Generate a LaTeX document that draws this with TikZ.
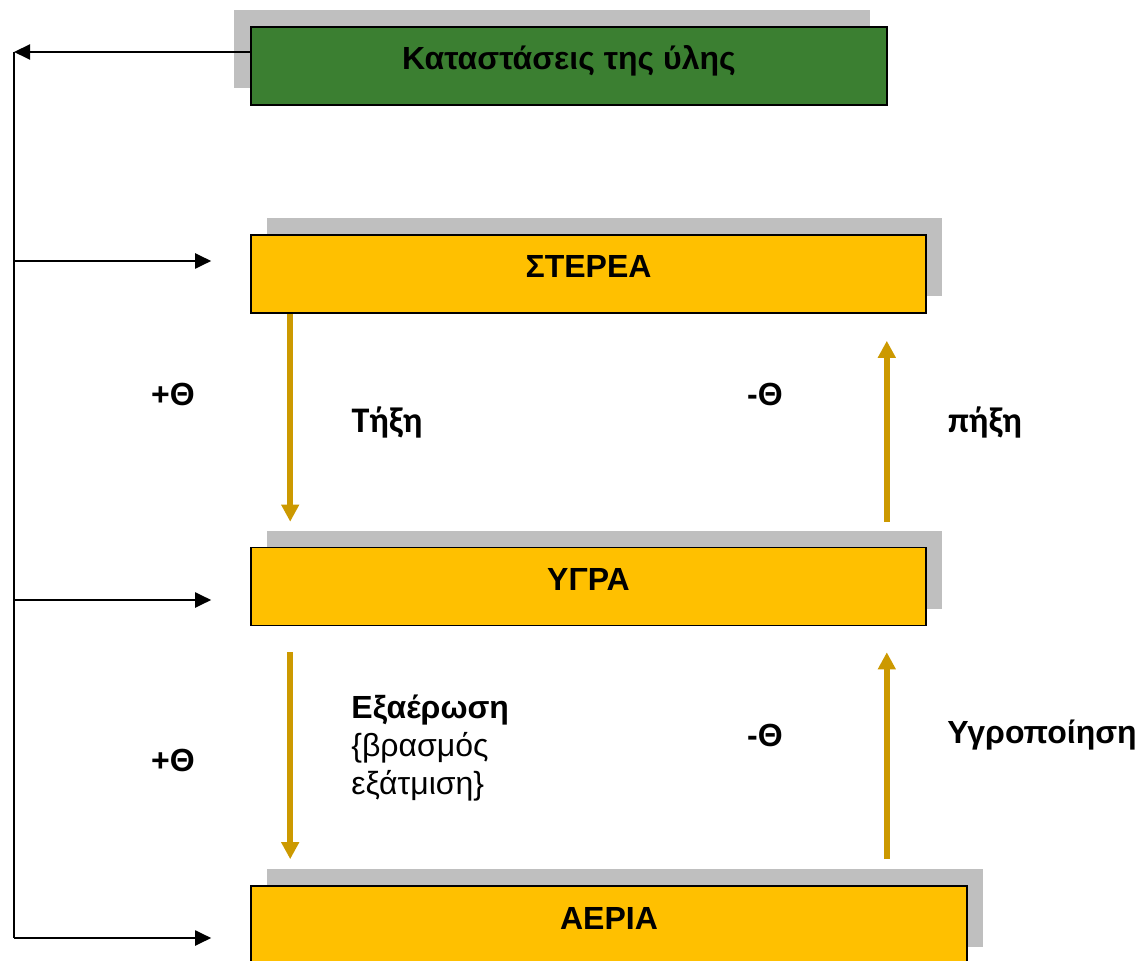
\documentclass[tikz,border=0pt]{standalone}
\usepackage{fontspec}
\setmainfont{Liberation Sans}
\newfontfamily\calibri{Carlito}
\usetikzlibrary{arrows.meta}
\usetikzlibrary{shadows}

\definecolor{stategold}{HTML}{FFC000}
\definecolor{titlegreen}{HTML}{3B7F31}
\definecolor{heatgold}{HTML}{CC9900}
\definecolor{shadowgray}{HTML}{BFBFBF}

\begin{document}
\begin{tikzpicture}[x=0.5pt,y=-0.5pt,
    statebox/.style={draw,line width=0.8pt,fill=stategold,minimum height=39pt,
      font=\bfseries\fontsize{16}{19}\selectfont,text height=12pt,text depth=8pt},
    rshadow/.style={general shadow={fill=shadowgray,shadow xshift=8pt,shadow yshift=8.5pt}},
    lshadow/.style={general shadow={fill=shadowgray,shadow xshift=-8.5pt,shadow yshift=8.5pt}},
    bus/.style={-{Triangle[length=8pt,width=7.5pt]},line width=1pt},
    heat/.style={-{Triangle[length=8.5pt,width=8.5pt]},line width=3pt,draw=heatgold},
    lbl/.style={font=\bfseries\fontsize{16}{19}\selectfont},
    clbl/.style={font=\calibri\bfseries\fontsize{18}{22}\selectfont}]
    \path[use as bounding box,clip] (0,0) rectangle (1138,961);
    %
    \node[statebox,lshadow,fill=titlegreen,minimum width=318pt] (title) at (569,66) {Καταστάσεις της ύλης};
    \node[statebox,rshadow,minimum width=337.5pt] (stereo) at (588.5,274) {ΣΤΕΡΕΑ};
    \node[statebox,rshadow,minimum width=337.5pt] (ygra) at (588.5,586.5) {ΥΓΡΑ};
    \node[statebox,rshadow,minimum width=358pt] (aeria) at (609,925) {ΑΕΡΙΑ};
    %
    \coordinate (top) at (14,52);
    \coordinate (b1) at (14,261);
    \coordinate (b2) at (14,600);
    \coordinate (b3) at (14,938);
    \draw[bus] (top -| title.west) -- (top);
    \draw[line width=1pt] (top) -- (b3);
    \draw[bus,shorten >=19.5pt] (b1) -- (b1 -| stereo.west);
    \draw[bus,shorten >=19.5pt] (b2) -- (b2 -| ygra.west);
    \draw[bus,shorten >=19.5pt] (b3) -- (b3 -| aeria.west);
    %
    \draw[heat,shorten >=12.5pt] ([xshift=20pt]stereo.south west) -- ([xshift=20pt]ygra.north west);
    \draw[heat,shorten <=12.5pt,shorten >=13.5pt] ([xshift=-20pt]ygra.north east) -- ([xshift=-20pt]stereo.south east);
    \draw[heat,shorten <=13pt,shorten >=13pt] ([xshift=20pt]ygra.south west) -- ([xshift=20pt]aeria.north west);
    \coordinate (rise) at ([xshift=-20pt]ygra.south east);
    \draw[heat,shorten <=13pt,shorten >=13pt] (rise |- aeria.north) -- (rise);
    %
    \node[lbl] (plusA) at (173,394) {+Θ};
    \node[lbl] (minusA) at (765,394) {-Θ};
    \node[clbl] (tixi) at (387,422) {Τήξη};
    \node[clbl] (pixi) at (985,422) {πήξη};
    \node[lbl] (plusB) at (173,760) {+Θ};
    \node[lbl] (minusB) at (765,735) {-Θ};
    \node[font=\fontsize{16}{19}\selectfont,align=left,anchor=west,inner sep=0pt] (exaer) at (351,748)
      {\textbf{Εξαέρωση}\\\{βρασμός\\εξάτμιση\}};
    \node[lbl,anchor=west,inner sep=0pt] (ygrop) at (947,735) {Υγροποίηση};
  \end{tikzpicture}
\end{document}
